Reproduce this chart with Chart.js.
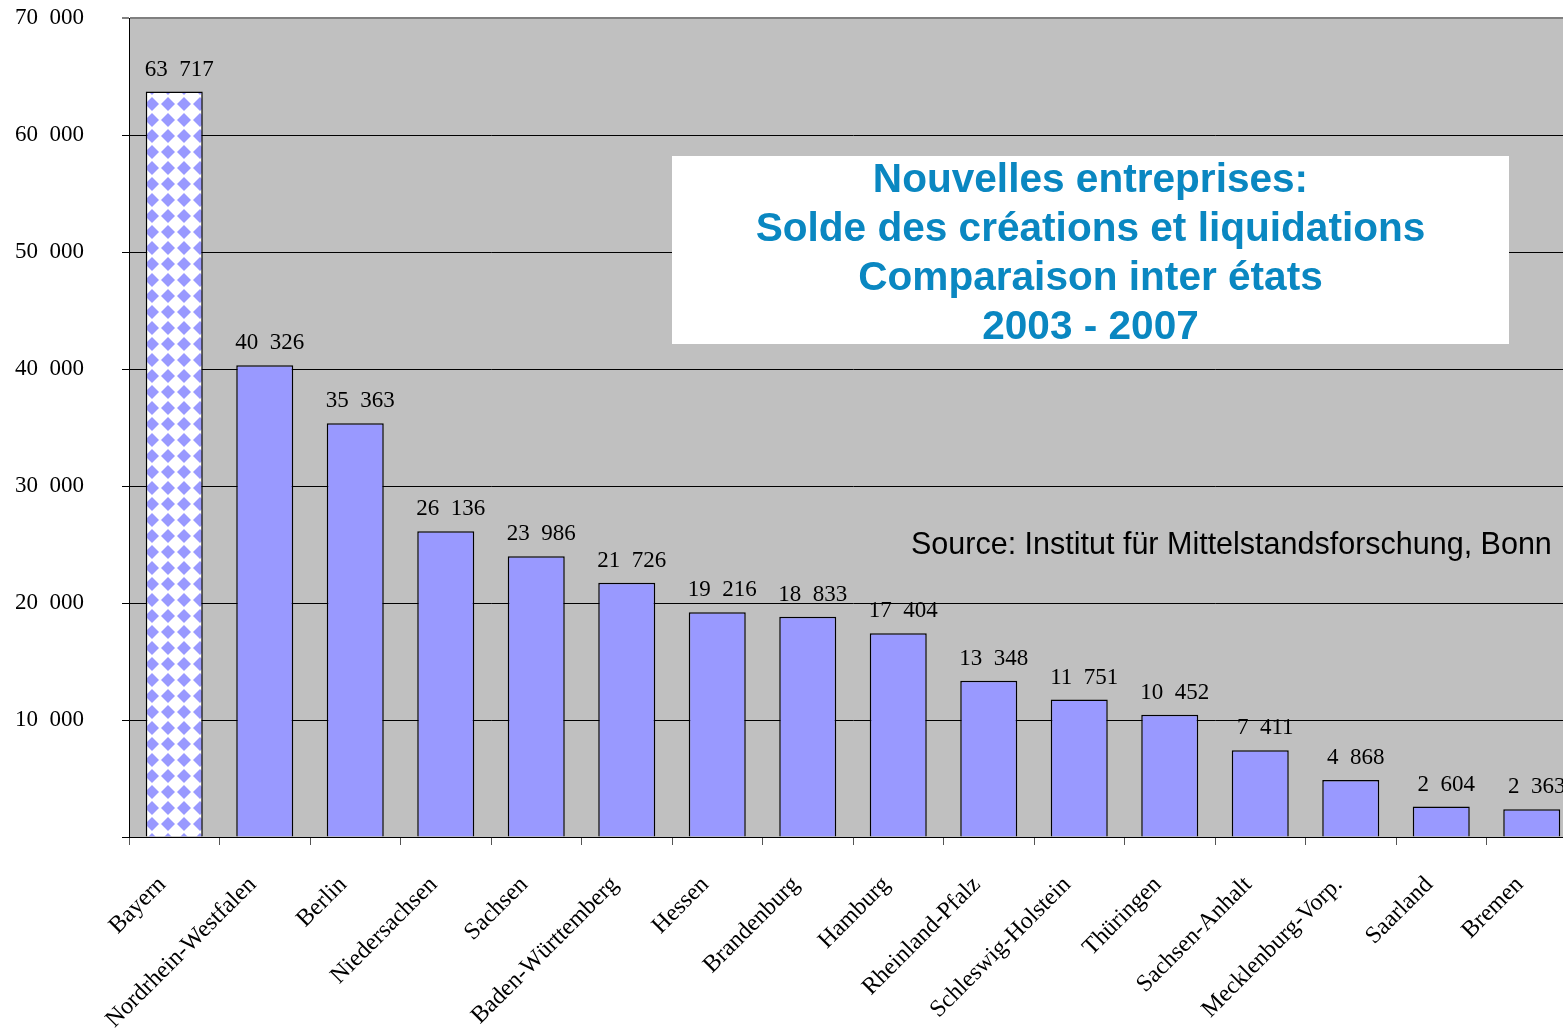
<!DOCTYPE html>
<html>
<head>
<meta charset="utf-8">
<script src="https://cdn.jsdelivr.net/npm/chart.js@4"></script>
<style>
  html, body { margin: 0; padding: 0; background: #fff; overflow: hidden; }
  #wrap { position: relative; width: 1580px; height: 1028px; }
  #titleBox {
    position: absolute; left: 672px; top: 156px; width: 837px; height: 188px;
    background: #fff; color: #0a87c1; text-align: center;
    font: bold 40.6px "Liberation Sans", Arial, sans-serif; line-height: 49px;
  }
  #titleBox div { position: relative; top: -2px; }
  #source {
    position: absolute; left: 911px; top: 526px;
    font: 30.5px "Liberation Sans", Arial, sans-serif; color: #000; white-space: nowrap;
  }
</style>
</head>
<body>
<div id="wrap">
  <canvas id="chart" width="1580" height="1028"></canvas>
  <div id="titleBox"><div>Nouvelles entreprises:<br>Solde des créations et liquidations<br>Comparaison inter états<br>2003 - 2007</div></div>
  <div id="source">Source: Institut für Mittelstandsforschung, Bonn</div>
</div>
<script>
// données
const etats = ['Bayern', 'Nordrhein-Westfalen', 'Berlin', 'Niedersachsen', 'Sachsen',
  'Baden-Württemberg', 'Hessen', 'Brandenburg', 'Hamburg', 'Rheinland-Pfalz',
  'Schleswig-Holstein', 'Thüringen', 'Sachsen-Anhalt', 'Mecklenburg-Vorp.', 'Saarland', 'Bremen'];
const solde = [63717, 40326, 35363, 26136, 23986, 21726, 19216, 18833, 17404, 13348,
  11751, 10452, 7411, 4868, 2604, 2363];
const yTicks = [0, 10000, 20000, 30000, 40000, 50000, 60000, 70000];

const BLEU = '#9999ff';
const SERIF = '"Liberation Serif", "Times New Roman", serif';

function fmt(n) {
  // séparateur de milliers façon Excel : deux espaces
  const s = String(n);
  if (s.length <= 3) return s;
  return s.slice(0, s.length - 3) + '  ' + s.slice(-3);
}

// motif en losanges pour la Bavière
function makePattern() {
  const c = document.createElement('canvas');
  c.width = 16; c.height = 16;
  const g = c.getContext('2d');
  g.fillStyle = '#fff';
  g.fillRect(0, 0, 16, 16);
  g.fillStyle = BLEU;
  g.beginPath();
  g.moveTo(8, 1); g.lineTo(15, 8); g.lineTo(8, 15); g.lineTo(1, 8);
  g.closePath();
  g.fill();
  return document.getElementById('chart').getContext('2d').createPattern(c, 'repeat');
}
const motif = makePattern();

const fondGris = {
  id: 'fondGris',
  beforeDraw(chart) {
    const { ctx, chartArea: a } = chart;
    ctx.save();
    ctx.fillStyle = '#c0c0c0';
    ctx.fillRect(a.left, a.top, a.right - a.left, a.bottom - a.top);
    ctx.restore();
  }
};

// valeurs au-dessus des barres + noms des Länder inclinés à 45°
const etiquettes = {
  id: 'etiquettes',
  afterDatasetsDraw(chart) {
    const { ctx } = chart;
    const meta = chart.getDatasetMeta(0);
    ctx.save();
    ctx.font = '23px ' + SERIF;
    ctx.fillStyle = '#000';
    ctx.textAlign = 'center';
    ctx.textBaseline = 'alphabetic';
    meta.data.forEach((bar, i) => {
      ctx.fillText(fmt(solde[i]), bar.x + 5, bar.y - 16);
    });
    ctx.restore();
  },
  afterDraw(chart) {
    const { ctx } = chart;
    const sx = chart.scales.x;
    const y0 = chart.chartArea.bottom + 44;
    ctx.save();
    ctx.font = '24px ' + SERIF;
    ctx.fillStyle = '#000';
    ctx.textAlign = 'right';
    ctx.textBaseline = 'middle';
    etats.forEach((nom, i) => {
      ctx.save();
      ctx.translate(sx.getPixelForTick(i) - 12, y0);
      ctx.rotate(-Math.PI / 4);
      ctx.fillText(nom, 0, 0);
      ctx.restore();
    });
    ctx.restore();
  }
};

new Chart(document.getElementById('chart'), {
  type: 'bar',
  data: {
    labels: etats,
    datasets: [{
      data: solde,
      backgroundColor: solde.map((v, i) => i === 0 ? motif : BLEU),
      borderColor: '#000',
      borderWidth: 1.5,
      barPercentage: 0.63,
      categoryPercentage: 1
    }]
  },
  options: {
    responsive: false,
    animation: false,
    layout: { padding: { top: 18, right: 3, left: 0, bottom: 0 } },
    plugins: { legend: { display: false }, tooltip: { enabled: false } },
    scales: {
      x: {
        grid: { offset: true, drawOnChartArea: false, color: '#555', tickLength: 8 },
        border: { color: '#000', width: 1 },
        ticks: { display: false },
        afterFit(scale) { scale.height = 191; }
      },
      y: {
        min: 0, max: 70000,
        afterBuildTicks(scale) { scale.ticks = yTicks.map(v => ({ value: v })); },
        grid: {
          color: ctx => ctx.tick && ctx.tick.value === 70000 ? '#808080' : '#000',
          lineWidth: ctx => ctx.tick && ctx.tick.value === 70000 ? 2 : 1,
          tickLength: 7
        },
        border: { color: '#000', width: 1 },
        ticks: {
          padding: 38, color: '#000', font: { family: SERIF, size: 23 },
          callback: v => v === 0 ? '' : fmt(v)
        },
        afterFit(scale) {
          scale.width = 129;
          scale.paddingTop = 0;
          scale.paddingBottom = 0;
        }
      }
    }
  },
  plugins: [fondGris, etiquettes]
});
</script>
</body>
</html>
